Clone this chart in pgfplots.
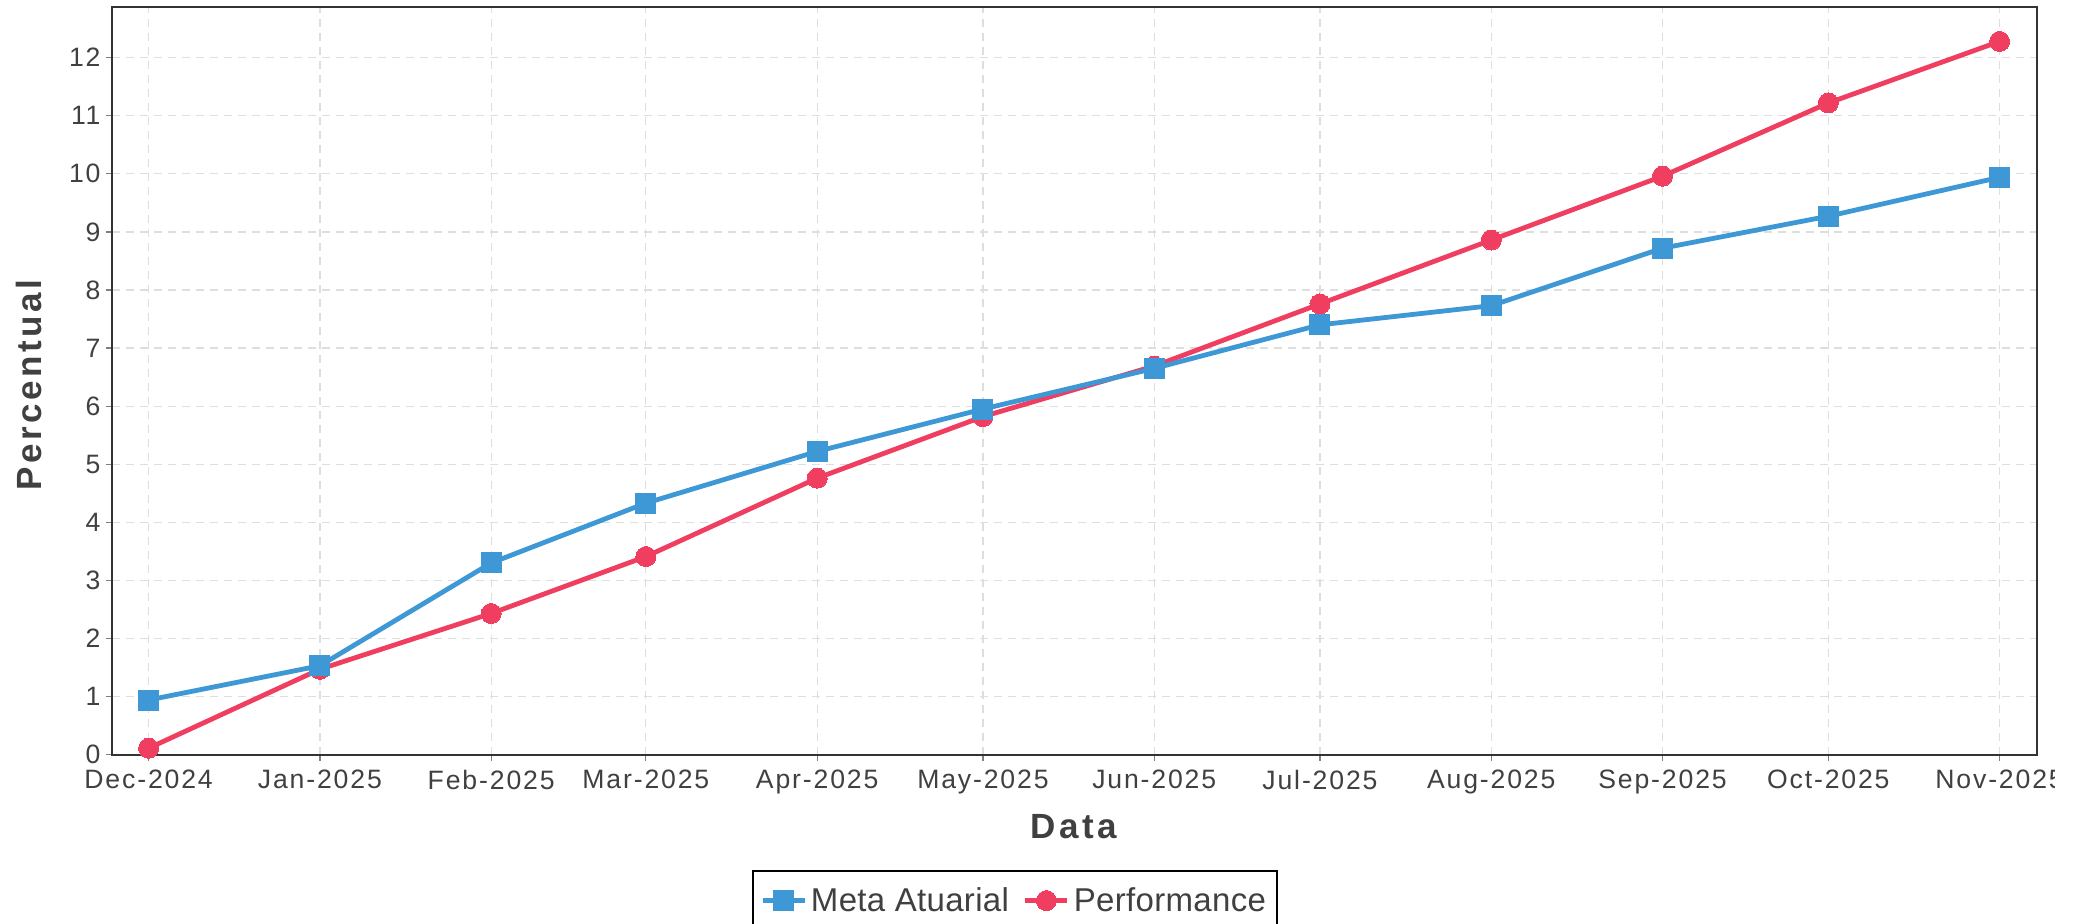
\documentclass[border=0pt]{standalone}
\usepackage{pgfplots}
\pgfplotsset{compat=1.18}
\usepackage{fontspec}
\setmainfont{Liberation Sans}
\newfontfamily\tickfont[LetterSpace=7]{Liberation Sans}
\newfontfamily\labfont[LetterSpace=10]{Liberation Sans}
\newfontfamily\legfont[LetterSpace=1]{Liberation Sans}
\definecolor{cblue}{RGB}{61,152,213}
\definecolor{cred}{RGB}{239,62,95}
\definecolor{txt}{RGB}{64,64,64}
\definecolor{gridc}{RGB}{222,222,222}

\pgfplotstableread{
day meta perf
0   0.94  0.11
31  1.53  1.47
62  3.30  2.43
90  4.33  3.41
121 5.22  4.76
151 5.95  5.82
182 6.65  6.69
212 7.40  7.76
243 7.73  8.86
274 8.72  9.96
304 9.27  11.22
335 9.94  12.28
}\datatab

\begin{document}
\begin{tikzpicture}
\useasboundingbox (-55.8pt,-84.7pt) rectangle (985.7pt,377.3pt);
\clip (-55.8pt,-84.7pt) rectangle (971.5pt,377.3pt);
\begin{axis}[
  at={(0pt,0pt)}, anchor=south west,
  scale only axis, width=962.5pt, height=374pt,
  xmin=-6.7, xmax=341.7, ymin=0, ymax=12.88,
  xtick={0,31,62,90,121,151,182,212,243,274,304,335},
  xticklabels={Dec-2024,Jan-2025,Feb-2025,Mar-2025,Apr-2025,May-2025,Jun-2025,Jul-2025,Aug-2025,Sep-2025,Oct-2025,Nov-2025},
  ytick={0,1,...,12},
  grid=major,
  major grid style={gridc, line width=0.6pt, dash pattern=on 4pt off 3pt},
  axis line style={black!80, line width=1pt},
  tick style={gray, line width=0.6pt},
  tick align=outside, major tick length=3pt,
  tick pos=left,
  ticklabel style={font=\tickfont\fontsize{13.3}{15}\selectfont, text=txt},
  yticklabel style={xshift=1pt},
  xticklabel style={yshift=-1.2pt},
  /pgf/number format/assume math mode=true,
  xlabel={Data}, ylabel={Percentual},
  xlabel style={at={(axis description cs:0.5,0)}, anchor=center, yshift=-35.8pt,
    font=\labfont\bfseries\fontsize{17.5}{20}\selectfont, text=txt},
  ylabel style={at={(axis description cs:0,0.494)}, anchor=center, yshift=41.5pt,
    font=\labfont\bfseries\fontsize{17.5}{20}\selectfont, text=txt},
  legend columns=2,
  reverse legend,
  legend style={at={(0.3327,-0.1543)}, anchor=north west, draw=black, line width=1.1pt,
    font=\legfont\fontsize{16.5}{20}\selectfont, text=txt,
    inner xsep=3.5pt, inner ysep=6pt,
    /tikz/every even column/.append style={column sep=5pt}},
  legend image code/.code={
    \draw[#1, mark repeat=2, mark phase=2] plot coordinates {(0pt,0pt) (10.5pt,0pt) (21pt,0pt)};
  },
]
\addplot[cred, line width=2.4pt, mark=*, mark size=5pt, mark options={solid, fill=cred, draw=cred, line width=0pt}]
  table[x=day, y=perf] {\datatab};
\addlegendentry{Performance}
\addplot[cblue, line width=2.4pt, mark=square*, mark size=5pt, mark options={solid, fill=cblue, draw=cblue, line width=0pt}]
  table[x=day, y=meta] {\datatab};
\addlegendentry{Meta Atuarial}
\end{axis}
\end{tikzpicture}
\end{document}
